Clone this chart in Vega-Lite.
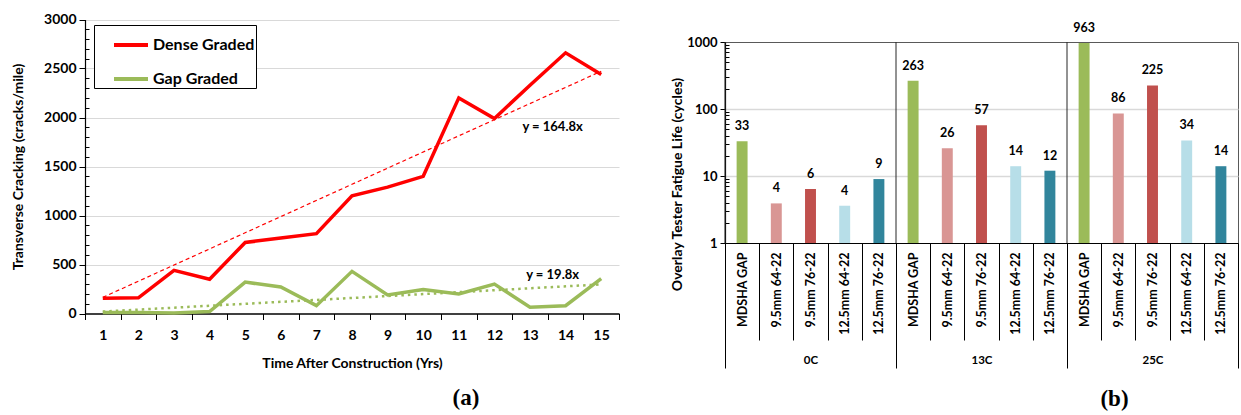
{
  "$schema": "https://vega.github.io/schema/vega-lite/v6.json",
  "background": "white",
  "padding": {"left": 11, "top": 12, "right": 0, "bottom": 0},
  "spacing": 50,
  "resolve": {"scale": {"color": "independent"}},
  "config": {
    "font": "Lato",
    "view": {"stroke": null},
    "axis": {"labelFont": "Lato", "titleFont": "Lato", "labelFontWeight": "bold", "titleFontWeight": "bold", "labelColor": "black", "titleColor": "black", "labelOverlap": false},
    "text": {"font": "Lato"}
  },
  "datasets": {
    "cracking": [
      {"year": 1, "series": "Dense Graded", "cracks": 155},
      {"year": 2, "series": "Dense Graded", "cracks": 160},
      {"year": 3, "series": "Dense Graded", "cracks": 440},
      {"year": 4, "series": "Dense Graded", "cracks": 350},
      {"year": 5, "series": "Dense Graded", "cracks": 725},
      {"year": 6, "series": "Dense Graded", "cracks": 770},
      {"year": 7, "series": "Dense Graded", "cracks": 815},
      {"year": 8, "series": "Dense Graded", "cracks": 1200},
      {"year": 9, "series": "Dense Graded", "cracks": 1290},
      {"year": 10, "series": "Dense Graded", "cracks": 1400},
      {"year": 11, "series": "Dense Graded", "cracks": 2200},
      {"year": 12, "series": "Dense Graded", "cracks": 1990},
      {"year": 13, "series": "Dense Graded", "cracks": 2330},
      {"year": 14, "series": "Dense Graded", "cracks": 2660},
      {"year": 15, "series": "Dense Graded", "cracks": 2440},
      {"year": 1, "series": "Gap Graded", "cracks": 10},
      {"year": 2, "series": "Gap Graded", "cracks": 10},
      {"year": 3, "series": "Gap Graded", "cracks": 5},
      {"year": 4, "series": "Gap Graded", "cracks": 20},
      {"year": 5, "series": "Gap Graded", "cracks": 320},
      {"year": 6, "series": "Gap Graded", "cracks": 270},
      {"year": 7, "series": "Gap Graded", "cracks": 80},
      {"year": 8, "series": "Gap Graded", "cracks": 430},
      {"year": 9, "series": "Gap Graded", "cracks": 190},
      {"year": 10, "series": "Gap Graded", "cracks": 245},
      {"year": 11, "series": "Gap Graded", "cracks": 200},
      {"year": 12, "series": "Gap Graded", "cracks": 300},
      {"year": 13, "series": "Gap Graded", "cracks": 65},
      {"year": 14, "series": "Gap Graded", "cracks": 80},
      {"year": 15, "series": "Gap Graded", "cracks": 355}
    ],
    "trend": [
      {"year": 1, "series": "Dense Graded", "cracks": 164.8},
      {"year": 15, "series": "Dense Graded", "cracks": 2472},
      {"year": 1, "series": "Gap Graded", "cracks": 19.8},
      {"year": 15, "series": "Gap Graded", "cracks": 297}
    ],
    "equations": [
      {"year": 14, "cracks": 1900, "label": "y = 164.8x"},
      {"year": 14, "cracks": 390, "label": "y = 19.8x"}
    ],
    "otfl": [
      {"key": "0C|MDSHA GAP", "temp": "0C", "mix": "MDSHA GAP", "cycles": 33},
      {"key": "0C|9.5mm 64-22", "temp": "0C", "mix": "9.5mm 64-22", "cycles": 3.9},
      {"key": "0C|9.5mm 76-22", "temp": "0C", "mix": "9.5mm 76-22", "cycles": 6.4},
      {"key": "0C|12.5mm 64-22", "temp": "0C", "mix": "12.5mm 64-22", "cycles": 3.6},
      {"key": "0C|12.5mm 76-22", "temp": "0C", "mix": "12.5mm 76-22", "cycles": 9},
      {"key": "13C|MDSHA GAP", "temp": "13C", "mix": "MDSHA GAP", "cycles": 263},
      {"key": "13C|9.5mm 64-22", "temp": "13C", "mix": "9.5mm 64-22", "cycles": 26},
      {"key": "13C|9.5mm 76-22", "temp": "13C", "mix": "9.5mm 76-22", "cycles": 57},
      {"key": "13C|12.5mm 64-22", "temp": "13C", "mix": "12.5mm 64-22", "cycles": 14},
      {"key": "13C|12.5mm 76-22", "temp": "13C", "mix": "12.5mm 76-22", "cycles": 12},
      {"key": "25C|MDSHA GAP", "temp": "25C", "mix": "MDSHA GAP", "cycles": 963},
      {"key": "25C|9.5mm 64-22", "temp": "25C", "mix": "9.5mm 64-22", "cycles": 86},
      {"key": "25C|9.5mm 76-22", "temp": "25C", "mix": "9.5mm 76-22", "cycles": 225},
      {"key": "25C|12.5mm 64-22", "temp": "25C", "mix": "12.5mm 64-22", "cycles": 34},
      {"key": "25C|12.5mm 76-22", "temp": "25C", "mix": "12.5mm 76-22", "cycles": 14}
    ],
    "groups": [
      {"temp": "0C"},
      {"temp": "13C"},
      {"temp": "25C"}
    ]
  },
  "hconcat": [
    {
      "width": 534,
      "height": 271.5,
      "title": {"text": "(a)", "orient": "bottom", "frame": "group", "anchor": "middle", "dx": 114, "offset": 16, "font": "Liberation Serif", "fontSize": 23, "fontWeight": "bold", "color": "black"},
      "layer": [
        {
          "data": {"name": "cracking"},
          "mark": {"type": "line", "strokeWidth": 3.5},
          "encoding": {
            "x": {
              "field": "year", "type": "ordinal", "bandPosition": 0.5,
              "scale": {"type": "band", "paddingInner": 0, "paddingOuter": 0},
              "axis": {"title": "Time After Construction (Yrs)", "labelAngle": 0, "tickBand": "extent", "tickSize": 6, "tickColor": "black", "domainColor": "black", "domainWidth": 1.5, "labelFontSize": 14, "titleFontSize": 14, "labelPadding": 9, "titlePadding": 14, "grid": false}
            },
            "y": {
              "field": "cracks", "type": "quantitative",
              "scale": {"domain": [0, 3000], "nice": false, "range": [271.5, -22.5]},
              "axis": {
                "title": "Transverse Cracking (cracks/mile)",
                "values": [0,100,200,300,400,500,600,700,800,900,1000,1100,1200,1300,1400,1500,1600,1700,1800,1900,2000,2100,2200,2300,2400,2500,2600,2700,2800,2900,3000],
                "tickCount": 100,
                "format": "d",
                "labelOverlap": false,
                "labelExpr": "datum.value % 500 === 0 ? datum.label : ''",
                "tickSize": {"condition": {"test": "datum.value % 500 === 0", "value": 6}, "value": -4},
                "gridOpacity": {"condition": {"test": "datum.value % 500 === 0 && datum.value > 0", "value": 1}, "value": 0},
                "gridColor": "#d9d9d9",
                "gridWidth": 1.2,
                "domainColor": "black",
                "domainWidth": 1.2,
                "tickColor": "black",
                "labelFontSize": 14,
                "titleFontSize": 14,
                "labelPadding": 3,
                "titlePadding": 18
              }
            },
            "color": {
              "field": "series", "type": "nominal",
              "scale": {"domain": ["Dense Graded", "Gap Graded"], "range": ["#FF0000", "#9BBB59"]},
              "legend": {"title": null, "orient": "none", "legendX": 9, "legendY": -17, "strokeColor": "black", "fillColor": "white", "padding": 1, "labelFont": "Lato", "labelFontSize": 16, "labelFontWeight": "bold", "labelColor": "black", "rowPadding": 7, "symbolType": "stroke", "symbolSize": 1156, "symbolStrokeWidth": 4, "symbolOffset": 17, "labelOffset": 3}
            }
          }
        },
        {
          "data": {"name": "trend"},
          "transform": [{"filter": "datum.series === 'Dense Graded'"}],
          "mark": {"type": "line", "color": "#FF0000", "strokeWidth": 1.2, "strokeDash": [4, 3]},
          "encoding": {
            "x": {"field": "year", "type": "ordinal", "bandPosition": 0.5},
            "y": {"field": "cracks", "type": "quantitative"}
          }
        },
        {
          "data": {"name": "trend"},
          "transform": [{"filter": "datum.series === 'Gap Graded'"}],
          "mark": {"type": "line", "color": "#9BBB59", "strokeWidth": 2.5, "strokeDash": [2.5, 4]},
          "encoding": {
            "x": {"field": "year", "type": "ordinal", "bandPosition": 0.5},
            "y": {"field": "cracks", "type": "quantitative"}
          }
        },
        {
          "data": {"name": "equations"},
          "mark": {"type": "text", "fontSize": 13, "fontWeight": "bold", "font": "Lato", "color": "black", "dx": -13},
          "encoding": {
            "x": {"field": "year", "type": "ordinal", "bandPosition": 0.5},
            "y": {"field": "cracks", "type": "quantitative"},
            "text": {"field": "label"}
          }
        }
      ]
    },
    {
      "width": 513,
      "height": 201,
      "view": {"stroke": "#595959"},
      "layer": [
        {
          "data": {"name": "otfl"},
          "layer": [
            {
              "mark": {"type": "bar", "width": {"band": 0.32}},
              "encoding": {
                "x": {
                  "field": "key", "type": "nominal", "sort": null,
                  "scale": {"paddingInner": 0, "paddingOuter": 0},
                  "axis": {"orient": "bottom", "title": null, "labelExpr": "split(datum.value, '|')[1]", "labelAngle": -90, "tickBand": "extent", "tickSize": 97, "labelPadding": -88, "tickColor": "black", "domainColor": "black", "domainWidth": 1.2, "labelFontSize": 12.5, "grid": false}
                },
                "y": {
                  "field": "cycles", "type": "quantitative",
                  "scale": {"type": "log", "domain": [1, 1000], "nice": false},
                  "axis": {
                    "title": "Overlay Tester Fatigue Life (cycles)",
                    "values": [1,2,3,4,5,6,7,8,9,10,20,30,40,50,60,70,80,90,100,200,300,400,500,600,700,800,900,1000],
                    "tickCount": 100,
                    "format": "d",
                    "labelOverlap": false,
                    "labelExpr": "indexof([1,10,100,1000], datum.value) >= 0 ? datum.label : ''",
                    "tickSize": {"condition": {"test": "indexof([1,10,100,1000], datum.value) >= 0", "value": 5}, "value": -4},
                    "gridOpacity": {"condition": {"test": "datum.value === 10 || datum.value === 100", "value": 1}, "value": 0},
                    "gridColor": "#d9d9d9",
                    "gridWidth": 1.5,
                    "domainColor": "black",
                    "domainWidth": 1.2,
                    "tickColor": "black",
                    "labelFontSize": 13,
                    "titleFontSize": 14,
                    "labelPadding": 3,
                    "titlePadding": 2,
                    "titleY": 142
                  }
                },
                "y2": {"datum": 1},
                "color": {
                  "field": "mix", "type": "nominal",
                  "scale": {"domain": ["MDSHA GAP", "9.5mm 64-22", "9.5mm 76-22", "12.5mm 64-22", "12.5mm 76-22"], "range": ["#9BBB59", "#D99694", "#C0504D", "#B7DEE8", "#31859C"]},
                  "legend": null
                }
              }
            },
            {
              "mark": {"type": "text", "fontSize": 12.5, "fontWeight": "bold", "font": "Lato", "color": "black", "baseline": "bottom", "dy": -8},
              "encoding": {
                "x": {"field": "key", "type": "nominal", "sort": null},
                "y": {"field": "cycles", "type": "quantitative"},
                "text": {"field": "cycles", "type": "quantitative", "format": ".0f"}
              }
            }
          ]
        },
        {
          "data": {"name": "groups"},
          "mark": {"type": "rule", "color": "#262626", "strokeWidth": 1},
          "encoding": {
            "x": {
              "field": "temp", "type": "nominal", "sort": null, "bandPosition": 0,
              "scale": {"paddingInner": 0, "paddingOuter": 0},
              "axis": {"orient": "bottom", "title": "(b)", "titleFont": "Liberation Serif", "titleFontSize": 23, "titleFontWeight": "bold", "titleX": 389, "titleY": 155, "titleBaseline": "middle", "titleAlign": "center", "labelAngle": 0, "tickBand": "extent", "tickSize": 125, "labelPadding": -14, "tickColor": "black", "domain": false, "labelFontSize": 11.5, "grid": false}
            }
          }
        }
      ],
      "resolve": {"scale": {"x": "independent"}}
    }
  ]
}
